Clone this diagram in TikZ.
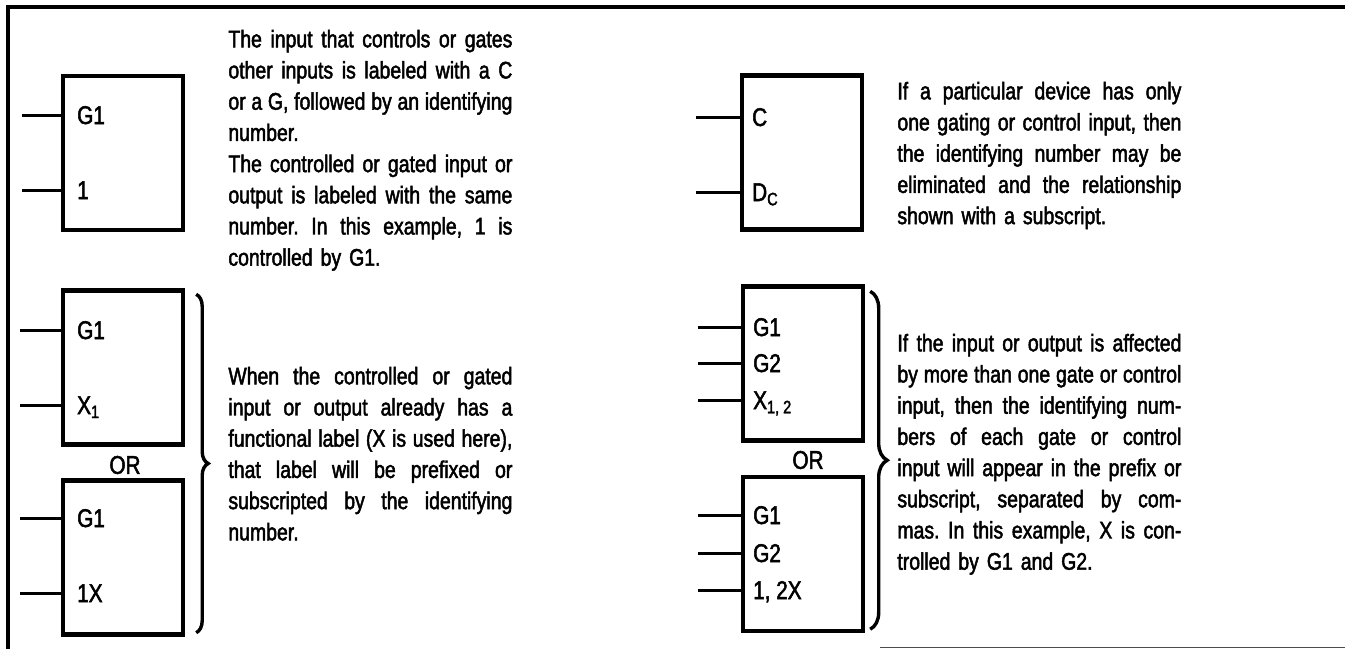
\documentclass[tikz,border=0pt]{standalone}
\usepackage{fontspec}
\setmainfont{Liberation Sans}[FakeStretch=0.81, FakeBold=2]
\usetikzlibrary{decorations.pathreplacing}
\frenchspacing
\newlength{\txtw}
\setlength{\txtw}{142pt}
% one justified line of a note
\newcommand{\jl}[1]{\makebox[\txtw][s]{\spaceskip=0pt\xspaceskip=0pt #1}}
\tikzset{
    gatebox/.style={draw, line width=2.2pt, minimum width=60pt, minimum height=77pt, inner sep=0pt},
    inwire/.style={line width=1.5pt},
    pinlabel/.style={anchor=base west, inner sep=0pt, xshift=8pt, yshift=-4.5pt, font=\fontsize{12.8pt}{14pt}\selectfont},
    note/.style={anchor=north west, inner sep=0pt, text width=\txtw, align=left},
    curly/.style={decorate, decoration={brace, amplitude=#1}, line width=1.7pt},
}
\begin{document}
\begin{tikzpicture}[x=0.5pt, y=-0.5pt, font=\fontsize{12pt}{15.6pt}\selectfont]
    \useasboundingbox (0,0) rectangle (1345,649);
    % Frame
    \draw[line width=1.8pt] (8,649) -- (8,7) -- (1345,7);
    \draw[line width=0.5pt, black!70] (880,647) -- (1345,647);

    % Gate with identifying number
    \node[gatebox] (boxA) at (123,153) {};
    \coordinate (a1) at (22,115);
    \coordinate (a2) at (22,190);
    \draw[inwire] (a1) -- (a1 -| boxA.west);
    \draw[inwire] (a2) -- (a2 -| boxA.west);
    \node[pinlabel] (la1) at (a1 -| boxA.west) {G1};
    \node[pinlabel] (la2) at (a2 -| boxA.west) {1};
    \node[note] (txtA) at (228,29.5) {\jl{The input that controls or gates}\\
        \jl{other inputs is labeled with a C}\\
        \jl{or a G, followed by an identifying}\\
        number.\\
        \jl{The controlled or gated input or}\\
        \jl{output is labeled with the same}\\
        \jl{number. In this example, 1 is}\\
        controlled by G1.};

    % Gate with one control input
    \node[gatebox] (boxD) at (802,152.5) {};
    \coordinate (d1) at (696,117);
    \coordinate (d2) at (696,192);
    \draw[inwire] (d1) -- (d1 -| boxD.west);
    \draw[inwire] (d2) -- (d2 -| boxD.west);
    \node[pinlabel, xshift=-2pt] (ld1) at (d1 -| boxD.west) {C};
    \node[pinlabel, xshift=-2pt] (ld2) at (d2 -| boxD.west) {D\textsubscript{C}};
    \node[note] (txtD) at (897,81.5) {\jl{If a particular device has only}\\
        \jl{one gating or control input, then}\\
        \jl{the identifying number may be}\\
        \jl{eliminated and the relationship}\\
        shown with a subscript.};

    % Functional label, subscript or prefix
    \node[gatebox] (boxB) at (123,367.5) {};
    \node[gatebox] (boxC) at (123,557.5) {};
    \coordinate (b1) at (20,330);
    \coordinate (b2) at (20,405);
    \coordinate (c1) at (20,518);
    \coordinate (c2) at (20,593);
    \foreach \p/\b in {b1/boxB, b2/boxB, c1/boxC, c2/boxC} {
        \draw[inwire] (\p) -- (\p -| \b.west);
    }
    \node[pinlabel] (lb1) at (b1 -| boxB.west) {G1};
    \node[pinlabel] (lb2) at (b2 -| boxB.west) {X\textsubscript{1}};
    \node[pinlabel] (lc1) at (c1 -| boxC.west) {G1};
    \node[pinlabel] (lc2) at (c2 -| boxC.west) {1X};
    \node[font=\fontsize{12.8pt}{14pt}\selectfont] (orL) at (125,465) {OR};
    \draw[curly=6pt] ([xshift=5.5pt,yshift=-3pt]boxB.north east) -- ([xshift=5.5pt,yshift=2pt]boxC.south east);
    \node[note] (txtB) at (228,366.5) {\jl{When the controlled or gated}\\
        \jl{input or output already has a}\\
        \jl{functional label (X is used here),}\\
        \jl{that label will be prefixed or}\\
        \jl{subscripted by the identifying}\\
        number.};

    % Several control inputs
    \node[gatebox] (boxE) at (803,363.5) {};
    \node[gatebox] (boxF) at (803,554) {};
    \foreach \n/\y in {1/327, 2/363, 3/400} {
        \coordinate (e\n) at (698,\y);
        \draw[inwire] (e\n) -- (e\n -| boxE.west);
    }
    \foreach \n/\y in {1/515, 2/553, 3/590} {
        \coordinate (f\n) at (698,\y);
        \draw[inwire] (f\n) -- (f\n -| boxF.west);
    }
    \node[pinlabel, xshift=-2pt] (le1) at (e1 -| boxE.west) {G1};
    \node[pinlabel, xshift=-2pt] (le2) at (e2 -| boxE.west) {G2};
    \node[pinlabel, xshift=-2pt] (le3) at (e3 -| boxE.west) {X\textsubscript{1, 2}};
    \node[pinlabel, xshift=-2pt] (lf1) at (f1 -| boxF.west) {G1};
    \node[pinlabel, xshift=-2pt] (lf2) at (f2 -| boxF.west) {G2};
    \node[pinlabel, xshift=-2pt] (lf3) at (f3 -| boxF.west) {1, 2X};
    \node[font=\fontsize{12.8pt}{14pt}\selectfont] (orR) at (808,460) {OR};
    \draw[curly=8.5pt] ([xshift=2.5pt,yshift=-3.5pt]boxE.north east) -- ([xshift=2.5pt,yshift=2pt]boxF.south east);
    \node[note] (txtF) at (897,333.5) {\jl{If the input or output is affected}\\
        \jl{by more than one gate or control}\\
        \jl{input, then the identifying num-}\\
        \jl{bers of each gate or control}\\
        \jl{input will appear in the prefix or}\\
        \jl{subscript, separated by com-}\\
        \jl{mas. In this example, X is con-}\\
        trolled by G1 and G2.};
\end{tikzpicture}
\end{document}
